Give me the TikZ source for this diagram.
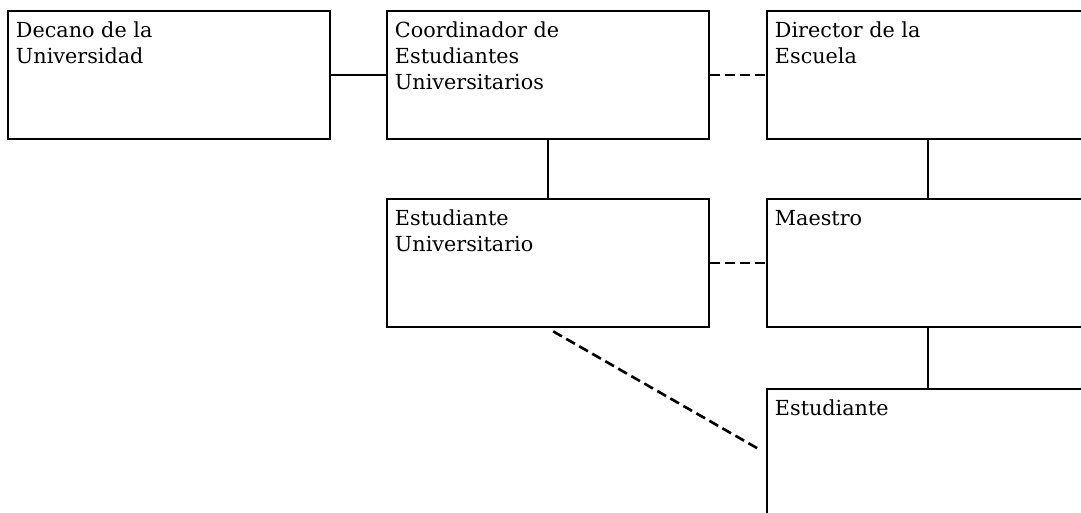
\documentclass[tikz,border=0pt]{standalone}
\usepackage{fontspec}
\setmainfont{DejaVu Serif}
\usepackage{tikz}

\begin{document}
\begin{tikzpicture}[x=0.02cm,y=-0.02cm]
\tikzset{caja/.style={draw,line width=1.6pt,minimum width=6.44cm,minimum height=2.56cm,inner sep=0pt},
  texto/.style={anchor=north west,inner xsep=0.18cm,inner ysep=0.24cm,align=left,font=\fontsize{11.8}{14.8}\selectfont},
  raya/.style={line width=1.5pt,dash pattern=on 0.2cm off 0.1cm}}
\useasboundingbox (0,0) rectangle (1081,512);
\clip (0,0) rectangle (1081,512);
\node[caja,label={[texto]north west:{Decano de la\\Universidad}}] (0) at (169,75) {};
\node[caja,label={[texto]north west:{Coordinador de\\Estudiantes\\Universitarios}}] (1) at (548,75) {};
\node[caja,label={[texto]north west:{Director de la\\Escuela}}] (2) at (928,75) {};
\node[caja,label={[texto]north west:{Estudiante\\Universitario}}] (3) at (548,263) {};
\node[caja,label={[texto]north west:{Maestro}}] (4) at (928,263) {};
\node[caja,label={[texto]north west:{Estudiante}}] (5) at (928,453) {};
\draw [-,line width=1.5pt](0)--(1);
\draw [-,raya](1)--(2);
\draw [-,line width=1.5pt](1)--(3);
\draw [-,line width=1.5pt](2)--(4);
\draw [-,raya](3)--(4);
\draw [-,line width=1.5pt](4)--(5);
\draw [-,raya,shorten <=0.12cm,shorten >=0.14cm](3.south)--(5.west);
\end{tikzpicture}
\end{document}
